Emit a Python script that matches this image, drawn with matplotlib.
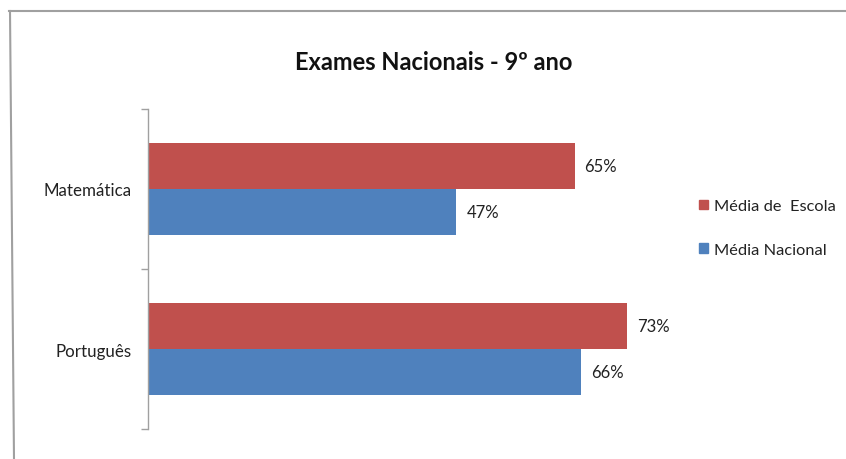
import matplotlib
matplotlib.use("Agg")
import matplotlib.pyplot as plt
from matplotlib.lines import Line2D
from matplotlib.patches import Patch

categories = ["Português", "Matemática"]
escola = [73, 65]
nacional = [66, 47]
series_names = ["Média de  Escola", "Média Nacional"]
title = "Exames Nacionais - 9º ano"

RED = "#C0504D"
BLUE = "#4F81BD"
plt.rcParams['font.family'] = ['Lato', 'DejaVu Sans']

W, H = 846, 460
fig = plt.figure(figsize=(W/100, H/100), dpi=100)
ax = fig.add_axes([148/W, 1-430/H, (673-148)/W, (430-110)/H])

h = 0.2875
ys = list(range(len(categories)))
ax.barh([y + h/2 for y in ys], escola, height=h, color=RED)
ax.barh([y - h/2 for y in ys], nacional, height=h, color=BLUE)
for y, v in zip(ys, escola):
    ax.text(v + 1.5, y + h/2, f"{v}%", va="center", ha="left", fontsize=12, color="#222222")
for y, v in zip(ys, nacional):
    ax.text(v + 1.5, y - h/2, f"{v}%", va="center", ha="left", fontsize=12, color="#222222")

ax.set_xlim(0, 80)
ax.set_ylim(-0.5, len(categories) - 0.5)
ax.set_xticks([])
ax.set_yticks([-0.5, 0.5, 1.5])
ax.set_yticklabels([])
ax.set_yticks(ys, minor=True)
ax.set_yticklabels(categories, minor=True, fontsize=12.2, color="#222222")
ax.tick_params(axis="y", which="major", length=5, color="#A0A0A0", width=1)
ax.tick_params(axis="y", which="minor", length=0, pad=12)
for s in ["top", "right", "bottom"]:
    ax.spines[s].set_visible(False)
ax.spines["left"].set_color("#A0A0A0")
ax.spines["left"].set_linewidth(1)

fig.text(434/W, 1-62/H, title, ha="center", va="center", fontsize=17, fontweight="bold", color="#111111")

handles = [Patch(color=RED), Patch(color=BLUE)]
leg = fig.legend(handles, series_names, loc="center left", bbox_to_anchor=(684/W, 1-229/H),
                 frameon=False, fontsize=11.8, handlelength=0.55, handleheight=0.55,
                 handletextpad=0.4, labelspacing=1.8)
for t in leg.get_texts():
    t.set_color("#222222")

fig.add_artist(Line2D([9/W, 1], [1-12/H, 1-12/H], color="#A0A0A0", lw=1.5, transform=fig.transFigure))
fig.add_artist(Line2D([10/W, 14/W], [1-12/H, 0], color="#A0A0A0", lw=1.5, transform=fig.transFigure))

fig.savefig("out.png", dpi=100, facecolor="white")
